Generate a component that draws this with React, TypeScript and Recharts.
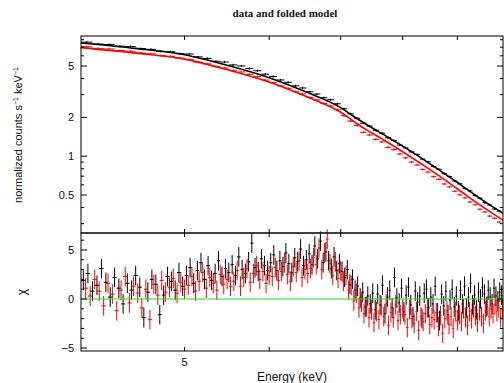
import React from 'react';
import {
  ComposedChart,
  Scatter,
  Line,
  XAxis,
  YAxis,
  ErrorBar,
  ReferenceLine,
} from 'recharts';

// top panel: folded spectra (counts s^-1 keV^-1), bins of 0.1 keV
const fluxEnergies = [
  4.05, 4.15, 4.25, 4.35, 4.45, 4.55, 4.65, 4.75, 4.85, 4.95,
  5.05, 5.15, 5.25, 5.35, 5.45, 5.55, 5.65, 5.75, 5.85, 5.95,
  6.05, 6.15, 6.25, 6.35, 6.45, 6.55, 6.65, 6.75, 6.85, 6.95,
  7.05, 7.15, 7.25, 7.35, 7.45, 7.55, 7.65, 7.75, 7.85, 7.95,
  8.05, 8.15, 8.25, 8.35, 8.45, 8.55, 8.65, 8.75, 8.85, 8.95,
  9.05, 9.15, 9.25, 9.35, 9.45, 9.55, 9.65, 9.75, 9.85,
];
const blackFlux = [
  7.66, 7.41, 7.35, 7.13, 7.08, 6.83, 6.74, 6.51, 6.45, 6.24,
  6.2, 5.89, 5.73, 5.44, 5.37, 5.1, 5.01, 4.78, 4.6, 4.32,
  4.15, 3.9, 3.74, 3.51, 3.38, 3.16, 3.03, 2.84, 2.74, 2.55,
  2.33, 2.13, 1.97, 1.8, 1.71, 1.59, 1.51, 1.39, 1.32, 1.22,
  1.16, 1.08, 1.03, 0.95, 0.903, 0.832, 0.791, 0.731, 0.694, 0.641,
  0.61, 0.562, 0.538, 0.496, 0.472, 0.436, 0.418, 0.39, 0.375,
];
const redFlux = [
  7.05, 6.85, 6.78, 6.6, 6.52, 6.31, 6.22, 6.03, 5.95, 5.77,
  5.63, 5.36, 5.2, 4.96, 4.82, 4.61, 4.5, 4.31, 4.14, 3.89,
  3.72, 3.5, 3.36, 3.16, 3.04, 2.85, 2.73, 2.56, 2.45, 2.29,
  2.06, 1.87, 1.73, 1.53, 1.46, 1.35, 1.29, 1.17, 1.125, 1.04,
  0.97, 0.9, 0.854, 0.79, 0.752, 0.694, 0.66, 0.609, 0.578, 0.534,
  0.502, 0.475, 0.441, 0.42, 0.388, 0.369, 0.343, 0.33, 0.308,
];

// folded models
const modelEnergies = [4.0, 4.5, 5.0, 5.5, 6.0, 6.5, 7.0, 7.2, 7.4, 7.6, 8.0, 8.5, 9.0, 9.5, 9.93];
const blackModel = [7.55, 6.85, 6.12, 5.03, 4.06, 3.14, 2.38, 2.03, 1.76, 1.545, 1.197, 0.865, 0.625, 0.456, 0.36];
const redModel = [6.95, 6.3, 5.66, 4.65, 3.76, 2.9, 2.19, 1.86, 1.6, 1.41, 1.083, 0.779, 0.559, 0.406, 0.319];

// bottom panel: residuals (chi), bins of 0.04 keV
const blackResEnergies = [
  4.02, 4.06, 4.10, 4.14, 4.18, 4.22, 4.26, 4.30, 4.34, 4.38,
  4.42, 4.46, 4.50, 4.54, 4.58, 4.62, 4.66, 4.70, 4.74, 4.78,
  4.82, 4.86, 4.90, 4.94, 4.98, 5.02, 5.06, 5.10, 5.14, 5.18,
  5.22, 5.26, 5.30, 5.34, 5.38, 5.42, 5.46, 5.50, 5.54, 5.58,
  5.62, 5.66, 5.70, 5.74, 5.78, 5.82, 5.86, 5.90, 5.94, 5.98,
  6.02, 6.06, 6.10, 6.14, 6.18, 6.22, 6.26, 6.30, 6.34, 6.38,
  6.42, 6.46, 6.50, 6.54, 6.58, 6.62, 6.66, 6.70, 6.74, 6.78,
  6.82, 6.86, 6.90, 6.94, 6.98, 7.02, 7.06, 7.10, 7.14, 7.18,
  7.22, 7.26, 7.30, 7.34, 7.38, 7.42, 7.46, 7.50, 7.54, 7.58,
  7.62, 7.66, 7.70, 7.74, 7.78, 7.82, 7.86, 7.90, 7.94, 7.98,
  8.02, 8.06, 8.10, 8.14, 8.18, 8.22, 8.26, 8.30, 8.34, 8.38,
  8.42, 8.46, 8.50, 8.54, 8.58, 8.62, 8.66, 8.70, 8.74, 8.78,
  8.82, 8.86, 8.90, 8.94, 8.98, 9.02, 9.06, 9.10, 9.14, 9.18,
  9.22, 9.26, 9.30, 9.34, 9.38, 9.42, 9.46, 9.50, 9.54, 9.58,
  9.62, 9.66, 9.70, 9.74, 9.78, 9.82, 9.86, 9.90,
];
const redResEnergies = [
  4.04, 4.08, 4.12, 4.16, 4.20, 4.24, 4.28, 4.32, 4.36, 4.40,
  4.44, 4.48, 4.52, 4.56, 4.60, 4.64, 4.68, 4.72, 4.76, 4.80,
  4.84, 4.88, 4.92, 4.96, 5.00, 5.04, 5.08, 5.12, 5.16, 5.20,
  5.24, 5.28, 5.32, 5.36, 5.40, 5.44, 5.48, 5.52, 5.56, 5.60,
  5.64, 5.68, 5.72, 5.76, 5.80, 5.84, 5.88, 5.92, 5.96, 6.00,
  6.04, 6.08, 6.12, 6.16, 6.20, 6.24, 6.28, 6.32, 6.36, 6.40,
  6.44, 6.48, 6.52, 6.56, 6.60, 6.64, 6.68, 6.72, 6.76, 6.80,
  6.84, 6.88, 6.92, 6.96, 7.00, 7.04, 7.08, 7.12, 7.16, 7.20,
  7.24, 7.28, 7.32, 7.36, 7.40, 7.44, 7.48, 7.52, 7.56, 7.60,
  7.64, 7.68, 7.72, 7.76, 7.80, 7.84, 7.88, 7.92, 7.96, 8.00,
  8.04, 8.08, 8.12, 8.16, 8.20, 8.24, 8.28, 8.32, 8.36, 8.40,
  8.44, 8.48, 8.52, 8.56, 8.60, 8.64, 8.68, 8.72, 8.76, 8.80,
  8.84, 8.88, 8.92, 8.96, 9.00, 9.04, 9.08, 9.12, 9.16, 9.20,
  9.24, 9.28, 9.32, 9.36, 9.40, 9.44, 9.48, 9.52, 9.56, 9.60,
  9.64, 9.68, 9.72, 9.76, 9.80, 9.84, 9.88, 9.92,
];
const blackRes = [
  1.9, 2.6, 0.8, 1.4, 3.1, 1.7, 0.2, 2.2, 1.1, -0.5, 1.6, 0.9, 2.4,
  1.2, -1.9, 0.7, 2.0, 1.5, -1.6, 0.4, 2.3, 1.8, 0.9, 2.7, 1.3,
  2.4, 3.2, 1.6, 2.9, 3.7, 2.0, 3.4, 1.9, 2.6, 3.9, 2.3, 3.1, 2.7,
  3.5, 2.4, 4.3, 3.0, 2.6, 3.8, 5.7, 3.2, 2.8, 4.1, 3.4, 2.9,
  3.7, 4.5, 2.9, 3.9, 3.3, 4.7, 3.6, 2.7, 4.2, 3.8, 5.1, 3.4, 4.0,
  4.6, 3.5, 5.4, 4.1, 5.9, 3.7, 4.8, 3.9, 3.1, 4.3, 2.9, 3.6,
  2.8, 2.2, 3.0, 1.5, 2.0, 0.9, 1.3, 0.1, 0.7, -0.8, 0.3, -0.5, 0.6,
  -1.1, 0.5, -0.6, 1.4, -1.5, 0.2, 0.9, -0.9, 2.2, 0.1, -0.4, 1.1,
  -1.3, 0.4, 1.2, -0.6, -1.8, 0.8, -0.3, 0.3, -2.0, 0.6, 1.0, -0.9, 0.2,
  -0.5, 1.3, -1.4, -2.2, 0.5, -0.7, 0.8, -1.6, -0.1, 1.0, -0.8, 0.3,
  -1.2, 0.9, -0.5, 1.3, -0.9, 0.2, 1.6, -0.6, 0.4, -1.1, 0.7, 0.0, 1.2,
  0.5, -0.8, 0.9, 0.2, -0.5, 1.1, 0.3, -0.2, 0.7, 0.4,
];
const redRes = [
  1.1, 0.3, 2.0, 0.8, -0.7, 1.6, 0.5, -1.2, 0.9, 2.3, -0.4, 1.3, 0.6,
  -0.9, 1.0, -2.1, 1.5, 0.4, 1.9, 0.7, 1.2, 2.1, 0.6, 1.7, 1.0,
  1.4, 2.3, 0.8, 1.8, 2.7, 1.1, 2.2, 1.6, 0.9, 2.5, 1.5, 2.0, 1.3,
  1.8, 2.9, 1.3, 2.2, 3.1, 1.7, 2.6, 3.4, 2.0, 2.8, 1.6, 2.4,
  2.3, 3.2, 1.9, 2.8, 3.7, 2.5, 1.8, 3.3, 2.7, 3.9, 2.2, 3.0, 2.6,
  3.1, 4.2, 3.5, 5.2, 3.0, 4.7, 6.1, 3.6, 2.4, 3.8, 2.1, 2.9,
  1.8, 2.4, 0.9, 1.4, -0.2, 0.6, -0.9, -0.3, -1.5, -0.8, -1.9, -1.1, -2.4,
  -1.3, -2.1, -0.7, -1.8, -0.5, -2.7, -1.4, -1.9, -0.6, -2.2, -1.6, -1.0,
  -1.6, -2.9, -1.1, -2.0, -2.5, -1.3, -3.2, -1.8, -2.3, -1.5, -0.9, -2.6, -1.9,
  -2.1, -1.4, -2.8, -1.7, -3.5, -2.0, -1.2, -2.6, -1.8, -3.0, -1.3, -2.2,
  -1.6, -2.3, -1.0, -1.9, -2.7, -1.3, -2.0, -0.9, -1.7, -2.4, -1.2, -1.8, -2.5,
  -1.2, -0.7, -1.8, -1.0, -1.5, -0.6, -1.3, -0.9, -1.9, -1.1,
];

const xTicks = [5, 6, 7, 8, 9];
const xLabels = [5];
const fluxTicks = [0.3, 0.4, 0.5, 0.6, 0.7, 0.8, 0.9, 1, 2, 3, 4, 5, 6, 7, 8];
const fluxLabels = [0.5, 1, 2, 5];
const resTicks = [-5, -4, -3, -2, -1, 0, 1, 2, 3, 4, 5, 6];
const resLabels = [-5, 0, 5];

const SANS = '"Liberation Sans", Arial, Helvetica, sans-serif';
const PLOT_W = 422;
const TOP_H = 197;
const RES_H = 118;
const E_DOMAIN = [4, 9.93];

const fluxPoints = (vals: number[]) =>
  vals.map((v, i) => ({ e: fluxEnergies[i], v, ey: v * 0.02, ex: 0.05 }));
const resPoints = (energies: number[], vals: number[]) =>
  vals.map((v, i) => ({ e: energies[i], v, ey: 1, ex: 0.02 }));
const modelPoints = (vals: number[]) =>
  vals.map((v, i) => ({ e: modelEnergies[i], v }));

const NoShape = () => <g />;

const yTick = (labels: number[]) => (props: any) => {
  const { x, y, payload } = props;
  const major = labels.includes(payload.value);
  const len = major ? 6 : 3;
  return (
    <g>
      <line x1={x} y1={y} x2={x + len} y2={y} stroke="#000" />
      <line x1={x + PLOT_W} y1={y} x2={x + PLOT_W - len} y2={y} stroke="#000" />
      {major && (
        <text x={x - 7} y={y + 4} textAnchor="end" fontSize={11} fontFamily={SANS} fill="#111">
          {payload.value < 0 ? '\u2212' + Math.abs(payload.value) : payload.value}
        </text>
      )}
    </g>
  );
};

const xTick = (plotH: number, showLabels: boolean) => (props: any) => {
  const { x, y, payload } = props;
  return (
    <g>
      <line x1={x} y1={y} x2={x} y2={y - 4} stroke="#000" />
      <line x1={x} y1={y - plotH} x2={x} y2={y - plotH + 4} stroke="#000" />
      {showLabels && xLabels.includes(payload.value) && (
        <text x={x} y={y + 15} textAnchor="middle" fontSize={11} fontFamily={SANS} fill="#111">
          {payload.value}
        </text>
      )}
    </g>
  );
};

export default function App() {
  return (
    <div style={{ position: 'absolute', left: 0, top: 0, width: 504, height: 383, background: '#fff' }}>
      <div style={{ position: 'absolute', left: 0, top: 0 }}>
        <ComposedChart width={504} height={240} margin={{ top: 36, right: 1, bottom: 0, left: 0 }}>
          <XAxis
            type="number"
            dataKey="e"
            scale="log"
            domain={E_DOMAIN}
            allowDataOverflow
            ticks={xTicks}
            interval={0}
            height={7}
            axisLine={false}
            tickLine={false}
            tickSize={0}
            tickMargin={0}
            tick={xTick(TOP_H, false)}
          />
          <YAxis
            type="number"
            scale="log"
            domain={[0.2537, 8.55]}
            allowDataOverflow
            ticks={fluxTicks}
            interval={0}
            width={81}
            axisLine={false}
            tickLine={false}
            tickSize={0}
            tickMargin={0}
            tick={yTick(fluxLabels)}
          />
          <Scatter data={fluxPoints(blackFlux)} dataKey="v" shape={NoShape} isAnimationActive={false}>
            <ErrorBar dataKey="ey" direction="y" width={0} stroke="#000" strokeWidth={1} />
            <ErrorBar dataKey="ex" direction="x" width={0} stroke="#000" strokeWidth={1} />
          </Scatter>
          <Scatter data={fluxPoints(redFlux)} dataKey="v" shape={NoShape} isAnimationActive={false}>
            <ErrorBar dataKey="ey" direction="y" width={0} stroke="#ff0000" strokeWidth={1} />
            <ErrorBar dataKey="ex" direction="x" width={0} stroke="#ff0000" strokeWidth={1} />
          </Scatter>
          <Line
            data={modelPoints(blackModel)}
            dataKey="v"
            type="monotone"
            stroke="#000"
            strokeWidth={1.6}
            dot={false}
            isAnimationActive={false}
          />
          <Line
            data={modelPoints(redModel)}
            dataKey="v"
            type="monotone"
            stroke="#ff0000"
            strokeWidth={1.6}
            dot={false}
            isAnimationActive={false}
          />
        </ComposedChart>
      </div>

      <div style={{ position: 'absolute', left: 0, top: 225 }}>
        <ComposedChart width={504} height={158} margin={{ top: 8, right: 1, bottom: 12, left: 0 }}>
          <XAxis
            type="number"
            dataKey="e"
            scale="log"
            domain={E_DOMAIN}
            allowDataOverflow
            ticks={xTicks}
            interval={0}
            height={20}
            axisLine={false}
            tickLine={false}
            tickSize={0}
            tickMargin={0}
            tick={xTick(RES_H, true)}
          />
          <YAxis
            type="number"
            domain={[-5.3, 6.73]}
            allowDataOverflow
            ticks={resTicks}
            interval={0}
            width={81}
            axisLine={false}
            tickLine={false}
            tickSize={0}
            tickMargin={0}
            tick={yTick(resLabels)}
          />
          <Scatter data={resPoints(blackResEnergies, blackRes)} dataKey="v" shape={NoShape} isAnimationActive={false}>
            <ErrorBar dataKey="ey" direction="y" width={0} stroke="#000" strokeWidth={1} />
            <ErrorBar dataKey="ex" direction="x" width={0} stroke="#000" strokeWidth={1} />
          </Scatter>
          <Scatter data={resPoints(redResEnergies, redRes)} dataKey="v" shape={NoShape} isAnimationActive={false}>
            <ErrorBar dataKey="ey" direction="y" width={0} stroke="#ff0000" strokeWidth={1} />
            <ErrorBar dataKey="ex" direction="x" width={0} stroke="#ff0000" strokeWidth={1} />
          </Scatter>
          <ReferenceLine y={0} stroke="#22dd22" strokeWidth={1.2} />
        </ComposedChart>
      </div>

      <svg
        width={504}
        height={383}
        style={{ position: 'absolute', left: 0, top: 0, pointerEvents: 'none' }}
      >
        <rect x={81} y={36} width={PLOT_W} height={TOP_H} fill="none" stroke="#000" strokeWidth={1} />
        <rect x={81} y={233} width={PLOT_W} height={RES_H} fill="none" stroke="#000" strokeWidth={1} />
        <text
          x={285}
          y={17}
          textAnchor="middle"
          fontSize={11}
          fontWeight="bold"
          fontFamily='"Liberation Serif", "Times New Roman", serif'
          fill="#111"
        >
          data and folded model
        </text>
        <text
          transform="translate(22,135) rotate(-90)"
          textAnchor="middle"
          fontSize={11}
          fontFamily={SANS}
          fill="#111"
        >
          normalized counts s
          <tspan dy={-4} fontSize={7}>{'\u22121'}</tspan>
          <tspan dy={4}> keV</tspan>
          <tspan dy={-4} fontSize={7}>{'\u22121'}</tspan>
        </text>
        <text
          transform="translate(26,292) rotate(-90)"
          textAnchor="middle"
          fontSize={12}
          fontFamily={SANS}
          fill="#111"
        >
          χ
        </text>
        <text x={292} y={381} textAnchor="middle" fontSize={12} fontFamily={SANS} fill="#111">
          Energy (keV)
        </text>
      </svg>
    </div>
  );
}
